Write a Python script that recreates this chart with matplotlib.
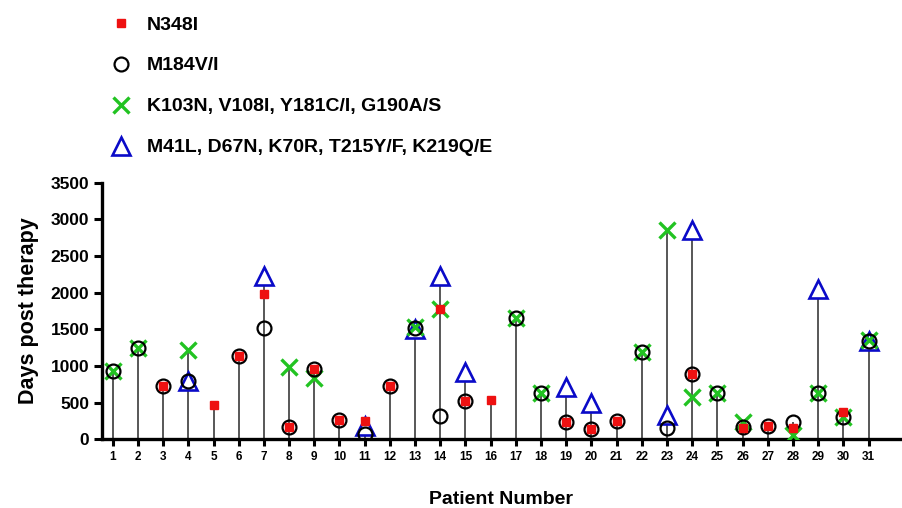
import numpy as np
import matplotlib.pyplot as plt
from matplotlib.lines import Line2D

plt.rcParams['font.family'] = ['Liberation Sans', 'DejaVu Sans']
plt.rcParams['font.weight'] = 'bold'

nan = np.nan
patients = list(range(1, 32))

# days post therapy at which each mutation group was detected (nan = not detected)
n348i = [nan, nan, 727, nan, 472, 1136, 1982, 172, 955, 263,
         250, 731, nan, 1773, 527, 536, nan, nan, 240, 140,
         250, nan, nan, 886, nan, 150, 186, 160, nan, 377, nan]
m184 = [930, 1250, 727, 800, nan, 1136, 1514, 172, 955, 263,
        75, 731, 1520, 318, 527, nan, 1659, 627, 240, 140,
        250, 1195, 159, 886, 627, 162, 186, 240, 634, 309, 1340]
nnrti = [930, 1250, nan, 1218, nan, nan, nan, 991, 832, nan,
         nan, nan, 1536, 1773, nan, nan, 1659, 627, nan, nan,
         nan, 1195, 2855, 581, 627, 232, nan, 59, 634, 309, 1350]
tams = [nan, nan, nan, 800, nan, nan, 2227, nan, nan, nan,
        185, nan, 1510, 2227, 922, nan, nan, nan, 718, 491,
        nan, nan, 331, 2855, nan, nan, nan, nan, 2046, nan, 1340]

labels = ["N348I", "M184V/I", "K103N, V108I, Y181C/I, G190A/S",
          "M41L, D67N, K70R, T215Y/F, K219Q/E"]

RED = "#ee1111"
GREEN = "#22c322"
BLUE = "#0a0ac8"

fig = plt.figure(figsize=(9.02, 5.08), dpi=100)
ax = fig.add_axes([0.1128, 0.1352, 0.885, 0.5052])

x = np.array(patients)
tops = np.nanmax(np.vstack([n348i, m184, nnrti, tams]), axis=0)
ax.vlines(x, 0, tops, color="#2a2a2a", lw=1.1, zorder=1)

ax.plot(x, tams, ls="none", marker="^", ms=13, mfc="white", mec=BLUE, mew=1.9, zorder=2)
ax.plot(x, nnrti, ls="none", marker="x", ms=11, mec=GREEN, mew=2.4, zorder=4)
ax.plot(x, m184, ls="none", marker="o", ms=10, mfc="none", mec="black", mew=1.6, zorder=5)
ax.plot(x, n348i, ls="none", marker="s", ms=5.5, mfc=RED, mec=RED, zorder=6)

ax.set_xlim(0.563, 32.25)
ax.set_ylim(0, 3500)
ax.set_yticks(range(0, 3501, 500))
ax.set_xticks(patients)
ax.tick_params(axis="y", labelsize=12.5, width=2.2, length=6, pad=3)
ax.tick_params(axis="x", labelsize=8.5, width=2.2, length=5)
for s in ["top", "right"]:
    ax.spines[s].set_visible(False)
for s in ["left", "bottom"]:
    ax.spines[s].set_linewidth(2.4)

ax.set_ylabel("Days post therapy", fontsize=15.5, fontweight="bold", labelpad=8)
ax.set_xlabel("Patient Number", fontsize=14, fontweight="bold", labelpad=20)

handles = [
    Line2D([], [], ls="none", marker="s", ms=5.5, mfc=RED, mec=RED),
    Line2D([], [], ls="none", marker="o", ms=10, mfc="none", mec="black", mew=1.6),
    Line2D([], [], ls="none", marker="x", ms=11, mec=GREEN, mew=2.4),
    Line2D([], [], ls="none", marker="^", ms=13, mfc="none", mec=BLUE, mew=1.9),
]
fig.legend(handles, labels, loc="upper left", bbox_to_anchor=(0.1037, 0.984),
           borderaxespad=0, frameon=False, labelspacing=1.2,
           handlelength=2.0, handletextpad=0.33,
           prop={"weight": "bold", "size": 14})

fig.savefig("out.png", dpi=100)
